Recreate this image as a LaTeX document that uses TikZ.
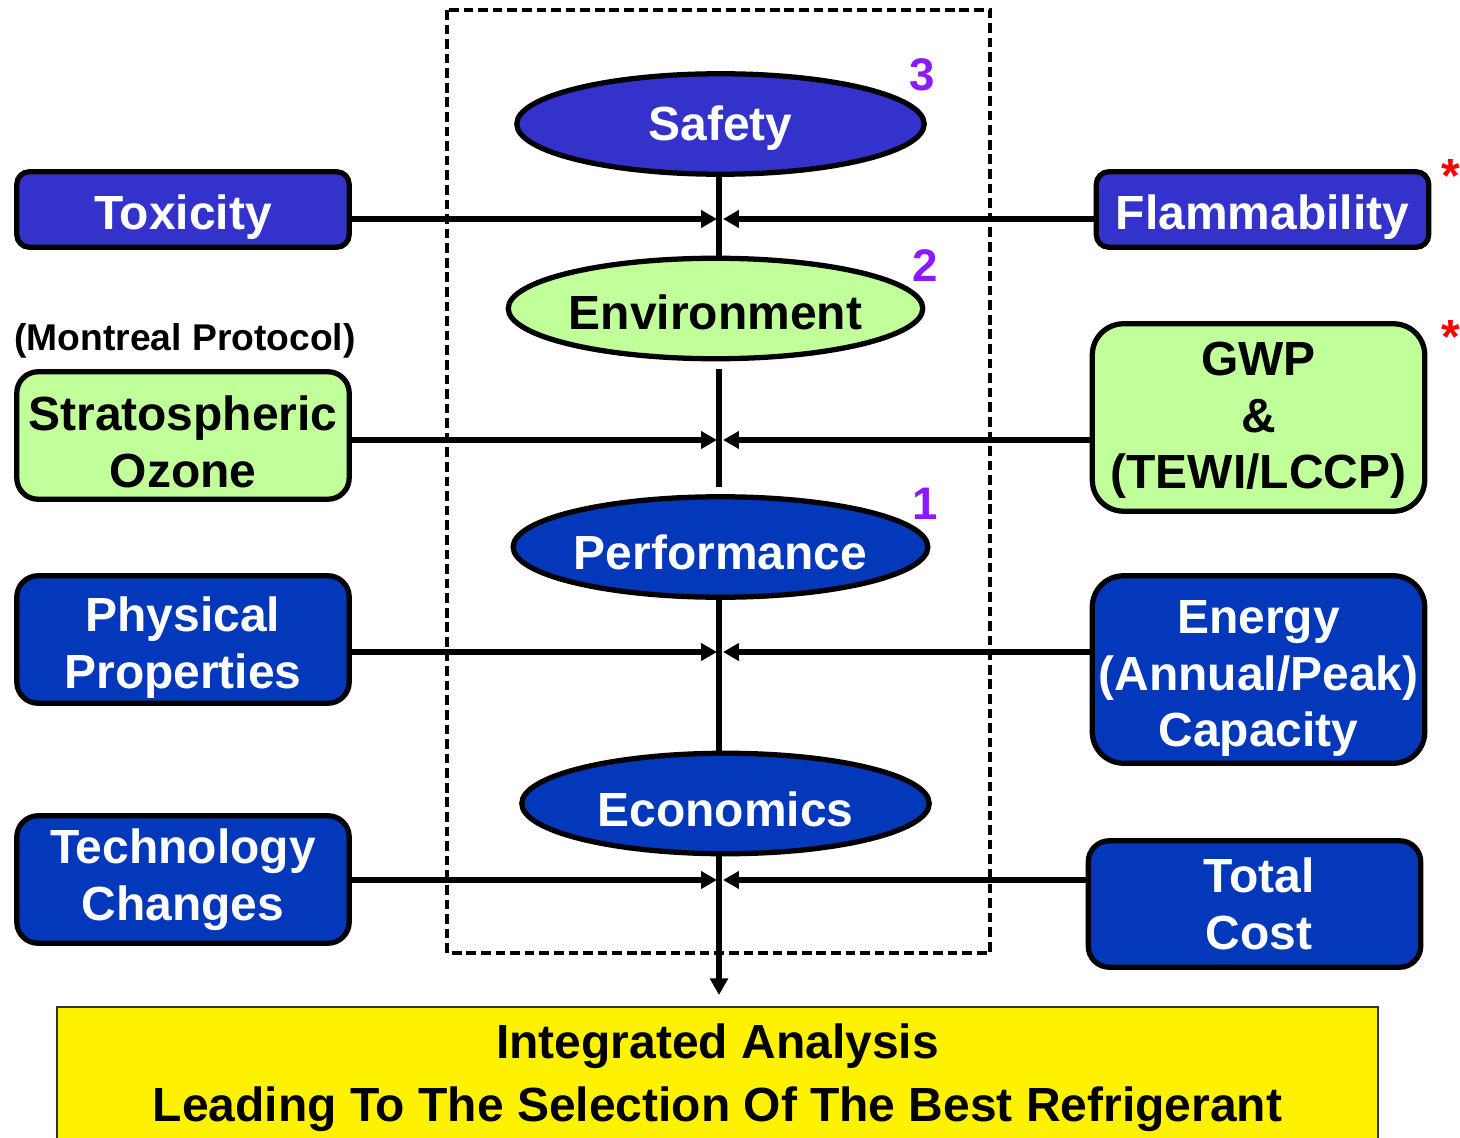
\documentclass[tikz,border=0pt]{standalone}
\usepackage{fontspec}
\setmainfont{Liberation Sans}
\usetikzlibrary{shapes.geometric,arrows.meta}
\definecolor{safetyblue}{RGB}{51,51,204}
\definecolor{perfblue}{RGB}{3,56,187}
\definecolor{envgreen}{RGB}{192,255,153}
\definecolor{rankpurple}{RGB}{140,25,255}
\begin{document}
\begin{tikzpicture}[x=0.02cm, y=-0.02cm,
    font=\bfseries\fontsize{27.3}{32.3}\selectfont,
    factor/.style={ellipse, draw, line width=3pt, inner sep=0pt,
      minimum width=8.15cm, minimum height=2.01cm},
    crit/.style={rectangle, draw, line width=3pt, inner sep=0pt, align=center,
      minimum width=6.65cm, minimum height=#1, rounded corners=#1/6},
    rank/.style={text=rankpurple, anchor=base, font=\bfseries\fontsize{26}{26}\selectfont},
    note/.style={text=red, anchor=base},
    feed/.style={line width=3pt, -{Triangle[length=9pt,width=9.6pt]}}]
  \useasboundingbox (0,0) rectangle (1460,1138);

  % dashed frame round the four factors
  \draw[line width=2pt, dash pattern=on 5.5pt off 2.8pt] (447,10) rectangle (990,953);

  \draw
    (720.5,124) node[factor, fill=safetyblue, text=white, text height=24.5pt] (safety) {Safety}
    (715.5,308.5) node[factor, fill=envgreen, text height=24.5pt] (env) {Environment}
    (720.5,547) node[factor, fill=perfblue, text=white, text height=25.6pt] (perf) {Performance}
    (725.5,803.5) node[factor, fill=perfblue, text=white, text height=26.8pt] (econ) {Economics};
  \draw
    (922,91) node[rank] (r3) {3}
    (925,282) node[rank] (r2) {2}
    (925,519) node[rank] (r1) {1};

  % criteria on the left
  \draw
    (183,209.5) node[crit=1.51cm, fill=safetyblue, text=white, text height=27.9pt] (tox) {Toxicity}
    (185,351) node[anchor=base, font=\bfseries\fontsize{21.2}{24}\selectfont] (montreal) {(Montreal Protocol)}
    (183,435.5) node[crit=2.55cm, fill=envgreen, text height=59pt] (ozone) {Stratospheric\\Ozone}
    (183,639.5) node[crit=2.55cm, fill=perfblue, text=white, text height=61.3pt] (phys) {Physical\\Properties}
    (183,879.5) node[crit=2.55cm, fill=perfblue, text=white] (tech) {Technology\\Changes};

  % criteria on the right
  \draw
    (1262.5,209.5) node[crit=1.51cm, fill=safetyblue, text=white, text height=27.9pt] (flam) {Flammability}
    (1258.5,417.5) node[crit=3.75cm, fill=envgreen, text height=86.8pt] (gwp) {GWP\\\&\\(TEWI/LCCP)}
    (1258.5,669.5) node[crit=3.75cm, fill=perfblue, text=white, text height=93.6pt] (energy) {Energy\\(Annual/Peak)\\Capacity}
    (1254.5,904) node[crit=2.53cm, fill=perfblue, text=white] (cost) {\hspace*{5pt}Total\\\hspace*{5pt}Cost}
    (1451,193) node[note] (n1) {*}
    (1451,354) node[note] (n2) {*};

  \node[draw=black!80, line width=1.1pt, fill=yellow, inner sep=0pt,
    minimum width=26.42cm, minimum height=2.68cm, align=center, text height=60pt,
    font=\bfseries\fontsize{27.3}{35.7}\selectfont] (result) at (717.5,1074)
    {Integrated Analysis\\Leading To The Selection Of The Best Refrigerant};

  \coordinate (axis) at (719,0);
  \coordinate (gapt) at (719,369);
  \coordinate (gapb) at (719,487);
  \coordinate (out) at (719,995);
  \begin{scope}[line width=3pt]
    \draw (safety.south -| axis) to (env.north -| axis);
    \draw (gapt) to (gapb);
    \draw (perf.south -| axis) to (econ.north -| axis);
    \draw[-{Triangle[length=9.5pt,width=10pt]}] (econ.south -| axis) to (out);
  \end{scope}
  \foreach \l/\r/\y in {tox/flam/219, ozone/gwp/440, phys/energy/652, tech/cost/880}{
    \coordinate (jl) at (717,\y);
    \coordinate (jr) at (723,\y);
    \draw[feed] (\l.east |- jl) to (jl);
    \draw[feed] (\r.west |- jr) to (jr);
  }
\end{tikzpicture}
\end{document}
